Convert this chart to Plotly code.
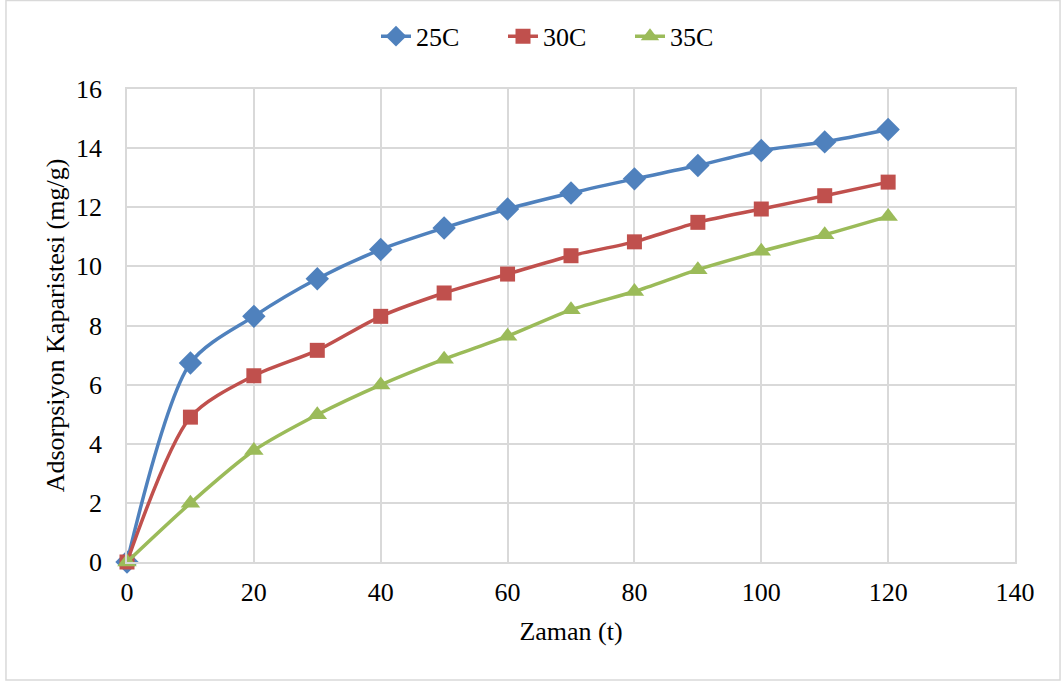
import plotly.graph_objects as go

time_t = [0, 10, 20, 30, 40, 50, 60, 70, 80, 90, 100, 110, 120]
q_25C = [0, 6.73, 8.31, 9.58, 10.57, 11.30, 11.94, 12.48, 12.96, 13.41, 13.92, 14.21, 14.63]
q_30C = [0, 4.90, 6.30, 7.16, 8.31, 9.10, 9.74, 10.36, 10.83, 11.49, 11.94, 12.39, 12.85]
q_35C = [0, 1.99, 3.77, 4.98, 5.99, 6.86, 7.64, 8.53, 9.15, 9.89, 10.51, 11.07, 11.69]

series = [
    ("25C", q_25C, "#4F81BD", "diamond", 18),
    ("30C", q_30C, "#C0504D", "square", 15),
    ("35C", q_35C, "#9BBB59", "triangle-up", 17),
]

fig = go.Figure()
for name, vals, color, sym, size in series:
    fig.add_trace(go.Scatter(
        x=time_t, y=vals, name=name, mode="lines+markers", cliponaxis=False,
        line=dict(color=color, width=3.5, shape="spline", smoothing=0.8),
        marker=dict(symbol=sym, size=size, color=color),
    ))

font = "Times New Roman"
fig.update_layout(
    width=1061, height=684,
    margin=dict(l=127, r=46, t=89, b=122),
    paper_bgcolor="white", plot_bgcolor="white",
    font=dict(family=font, size=26, color="black"),
    legend=dict(orientation="h", x=376 / 1061, xref="container", xanchor="left",
                y=0.947, yanchor="middle", yref="container",
                font=dict(size=26), entrywidth=82, entrywidthmode="pixels",
                traceorder="normal"),
    xaxis=dict(range=[0, 140], dtick=20, showgrid=True, gridcolor="#D9D9D9", gridwidth=1.5,
               showline=True, linecolor="#D9D9D9", linewidth=1.5, mirror=True,
               zeroline=False, ticks="", ticklabelstandoff=6,
               title=dict(text="Zaman (t)", standoff=16, font=dict(size=26))),
    yaxis=dict(range=[0, 16], dtick=2, showgrid=True, gridcolor="#D9D9D9", gridwidth=1.5,
               showline=True, linecolor="#D9D9D9", linewidth=1.5, mirror=True,
               zeroline=False, ticks="", ticklabelstandoff=18,
               title=dict(text="Adsorpsiyon Kaparistesi (mg/g)", standoff=4, font=dict(size=26))),
)
fig.add_shape(type="rect", xref="paper", yref="paper", x0=-0.1363, x1=1.0507, y0=-0.2495, y1=1.187,
              line=dict(color="#D9D9D9", width=1.5), fillcolor="rgba(0,0,0,0)", layer="below")
fig.write_html("out.html")
